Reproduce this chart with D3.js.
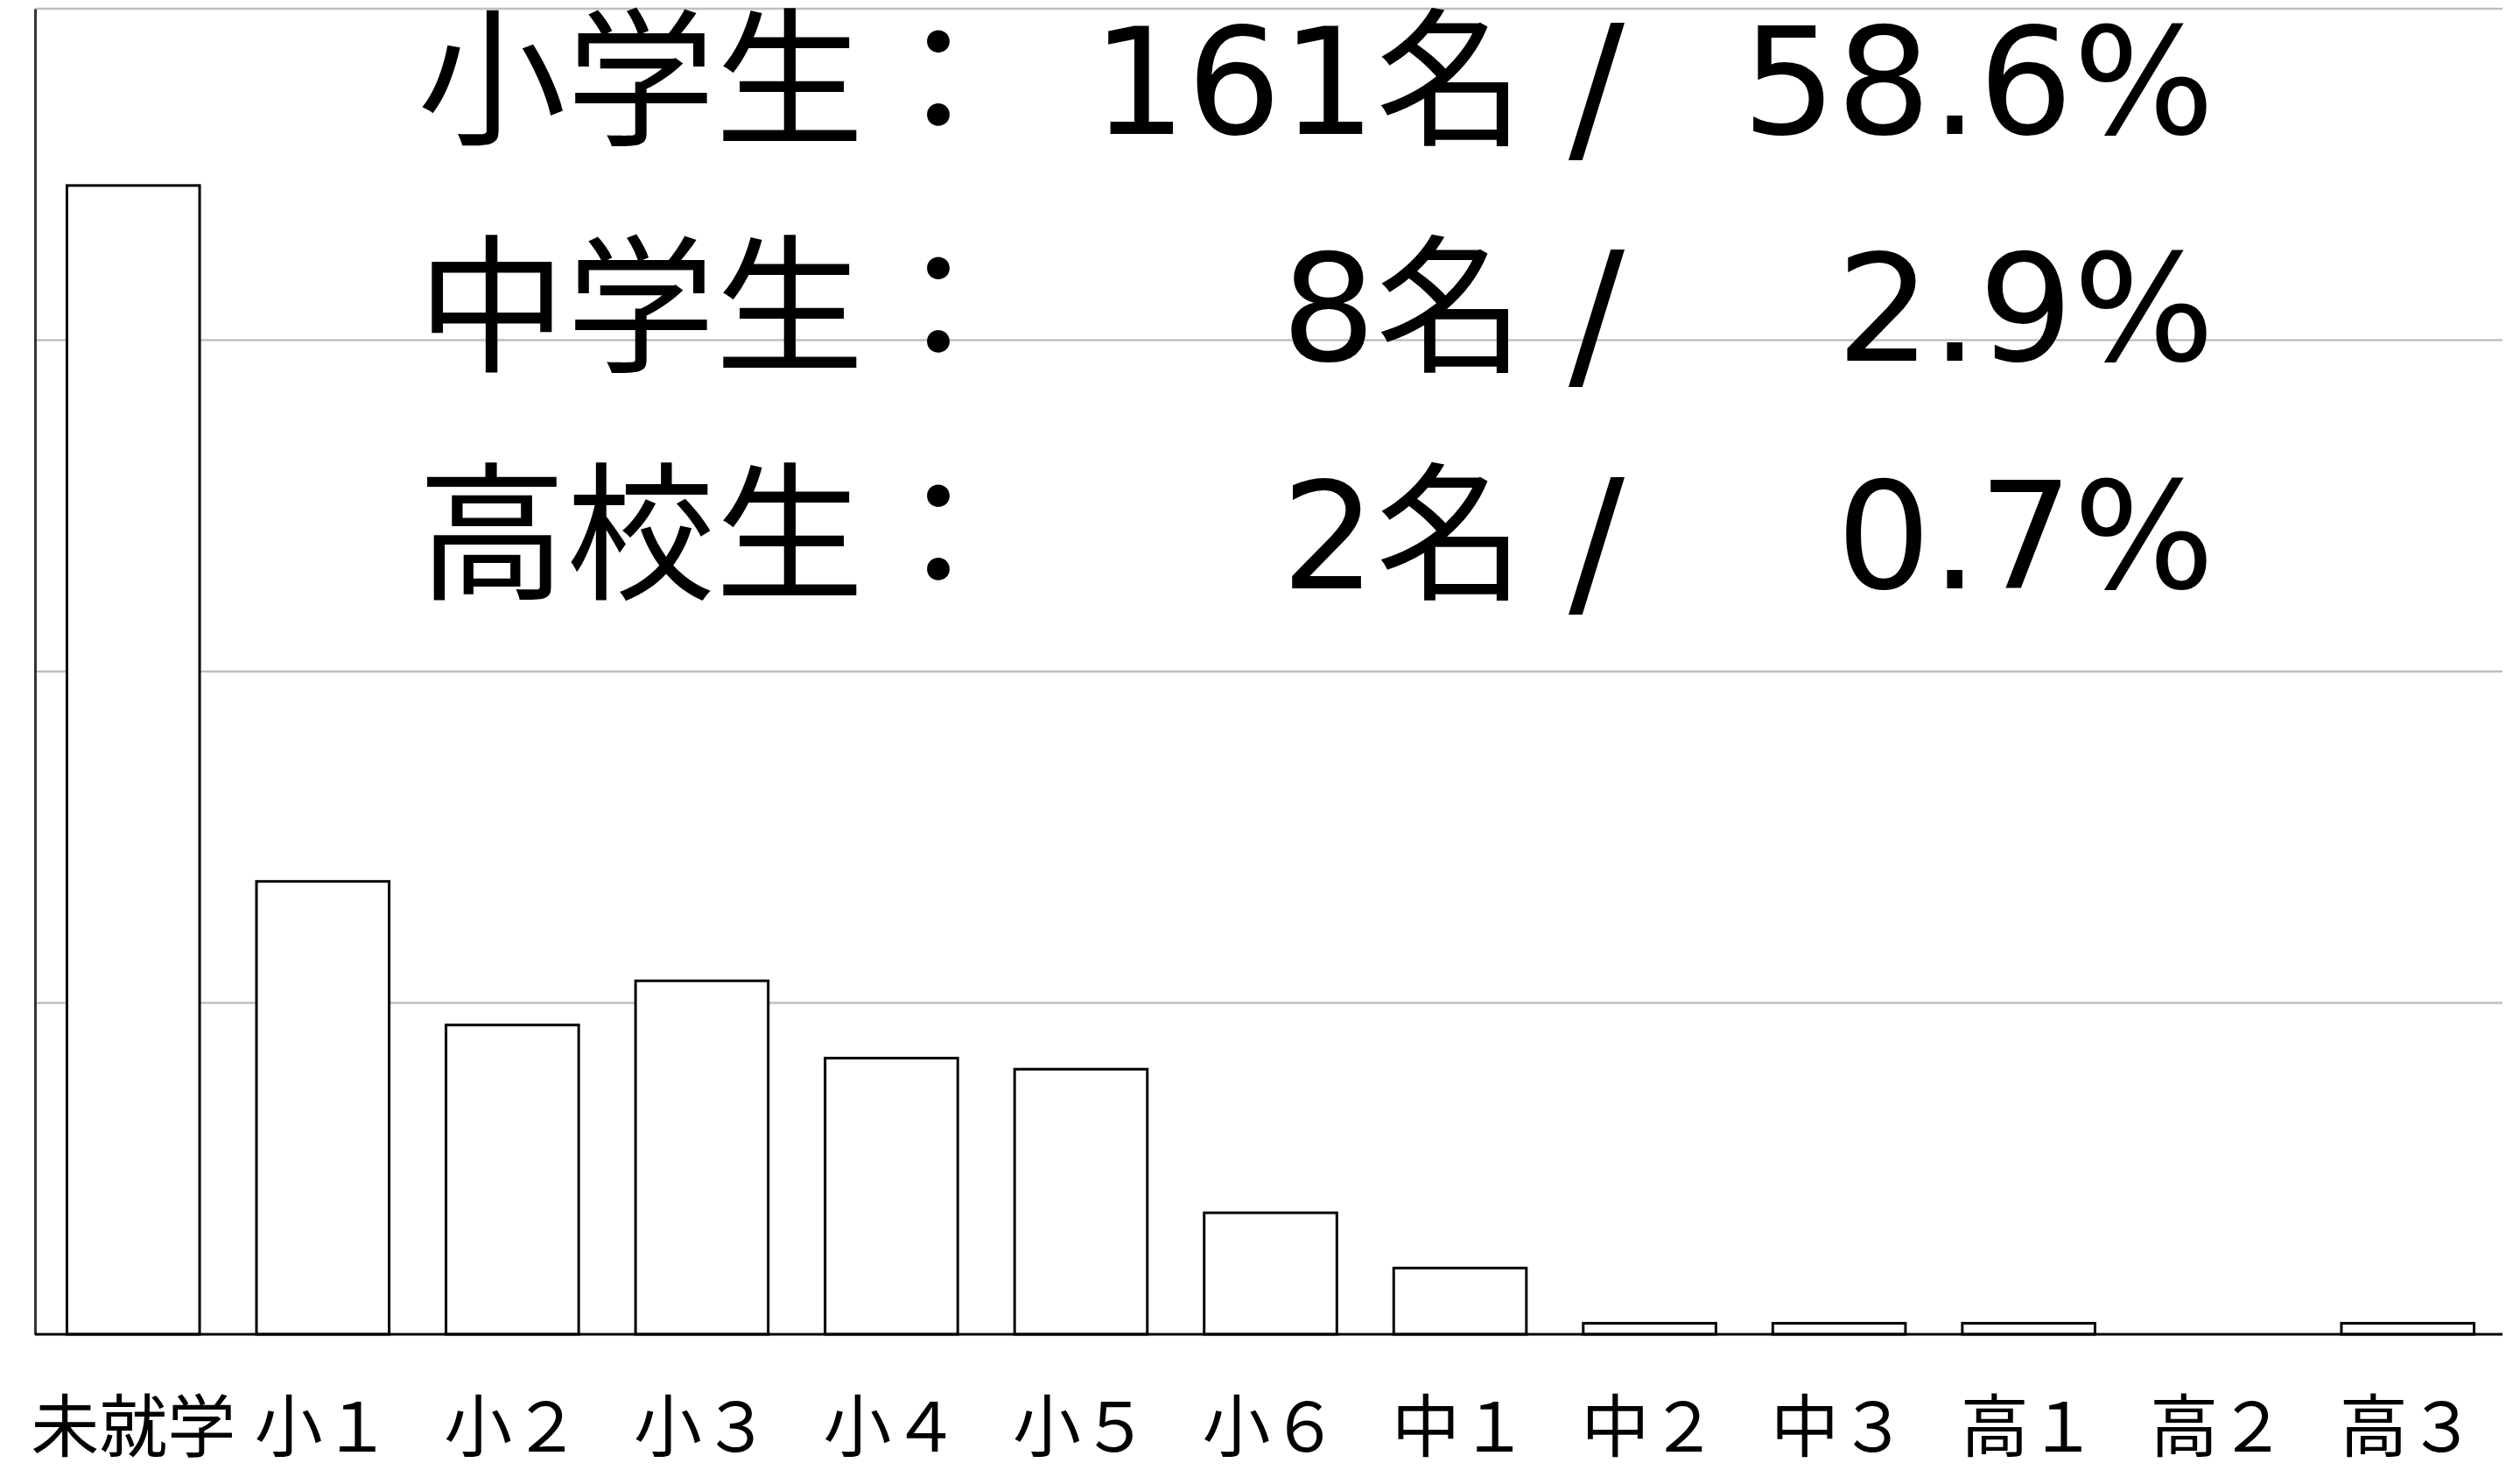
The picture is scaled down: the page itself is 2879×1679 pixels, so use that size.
<!DOCTYPE html>
<html>
<head>
<meta charset="utf-8">
<script src="https://cdn.jsdelivr.net/npm/d3@7"></script>
<style>
	body { margin: 0; background: #fff; }
	svg { display: block; }
</style>
</head>
<body>
<div id="chart"></div>
<script>
// grades and number of people per grade
var grades = ["未就学", "小１", "小２", "小３", "小４", "小５", "小６", "中１", "中２", "中３", "高１", "高２", "高３"];
var counts = [104, 41, 28, 32, 25, 24, 11, 6, 1, 1, 1, 0, 1];
var gridTicks = [30, 60, 90, 120];

// summary block
var summaryLabels = ["小学生：", "中学生：", "高校生："];
var summaryCounts = [161, 8, 2];
var summaryPercents = ["58.6", "2.9", "0.7"];

var chartW = 2879,
	chartH = 1679,
	plotLeft = 40,
	plotRight = 2859,
	plotBottom = 1524,
	plotTop = 10;

var svg = d3.select("#chart").append("svg")
	.attr("width", chartW)
	.attr("height", chartH);

var x = d3.scaleBand()
	.domain(grades)
	.range([44, plotRight])
	.paddingInner(0.3)
	.paddingOuter(0.15);

var y = d3.scaleLinear()
	.domain([0, 120])
	.range([plotBottom, plotTop]);

// horizontal grid lines
svg.append("g")
	.attr("class", "grid")
	.selectAll("line")
	.data(gridTicks)
	.enter()
	.append("line")
	.attr("x1", plotLeft)
	.attr("x2", plotRight)
	.attr("y1", function(d) { return y(d); })
	.attr("y2", function(d) { return y(d); })
	.attr("stroke", "#bfbfbf")
	.attr("stroke-width", 2.5);

// y axis line, no ticks
var yAxis = d3.axisLeft(y).tickValues([]).tickSizeOuter(0);
svg.append("g")
	.attr("transform", "translate(" + plotLeft + ",0)")
	.call(yAxis)
	.select(".domain")
	.attr("stroke", "#333")
	.attr("stroke-width", 3);

// bars (skip empty grades)
var barData = grades.map(function(g, i) {
	return {grade: g, value: counts[i]};
}).filter(function(d) { return d.value > 0; });

svg.append("g")
	.attr("class", "bars")
	.selectAll("rect")
	.data(barData)
	.enter()
	.append("rect")
	.attr("x", function(d) { return x(d.grade); })
	.attr("y", function(d) { return y(d.value); })
	.attr("width", x.bandwidth())
	.attr("height", function(d) { return plotBottom - y(d.value); })
	.attr("fill", "#fff")
	.attr("stroke", "#000")
	.attr("stroke-width", 3);

// x axis
var xAxis = d3.axisBottom(x).tickSize(0).tickPadding(0);
var gx = svg.append("g")
	.attr("transform", "translate(0," + plotBottom + ")")
	.call(xAxis);
gx.select(".domain")
	.attr("d", "M" + plotLeft + ",0H" + plotRight)
	.attr("stroke", "#000")
	.attr("stroke-width", 3);
gx.selectAll(".tick text")
	.attr("y", 134)
	.attr("dy", 0)
	.attr("fill", "#000")
	.style("font-family", "'Noto Sans CJK JP'")
	.style("font-size", "78px");

// summary text
var rowY = [153, 412, 672];
var summary = svg.append("g")
	.attr("class", "summary")
	.style("font-family", "'DejaVu Sans', 'Noto Sans CJK JP'")
	.style("font-size", "170px")
	.attr("fill", "#000");

summaryLabels.forEach(function(label, i) {
	summary.append("text")
		.attr("x", 477)
		.attr("y", rowY[i])
		.style("font-family", "'Noto Sans CJK JP'")
		.text(label);
	summary.append("text")
		.attr("x", 1742)
		.attr("y", rowY[i])
		.attr("text-anchor", "end")
		.text(summaryCounts[i] + "名");
	summary.append("text")
		.attr("x", 1824)
		.attr("y", rowY[i] + 12)
		.attr("text-anchor", "middle")
		.style("font-size", "190px")
		.text("/");
	summary.append("text")
		.attr("x", 2530)
		.attr("y", rowY[i])
		.attr("text-anchor", "end")
		.text(summaryPercents[i] + "%");
});
</script>
</body>
</html>
